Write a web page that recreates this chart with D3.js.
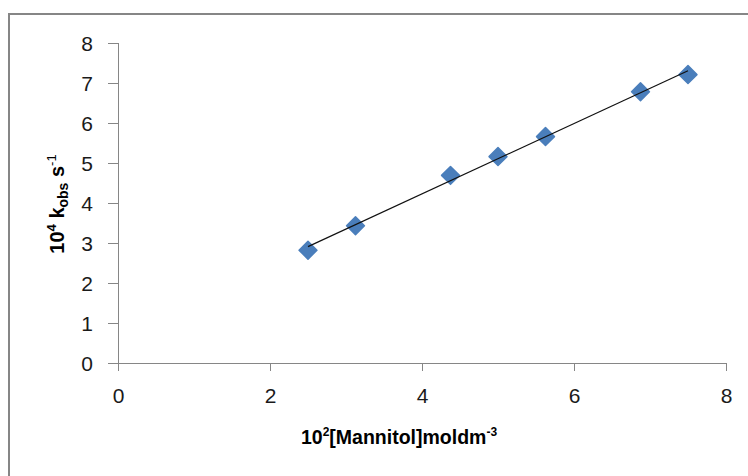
<!DOCTYPE html>
<html>
<head>
<meta charset="utf-8">
<script src="https://d3js.org/d3.v7.min.js"></script>
<style>
  body { margin: 0; background: #fff; }
  svg { display: block; font-family: "Liberation Sans", Arial, sans-serif; }
  .tick text { font-size: 21px; fill: #1a1a1a; }
  .axis path, .axis line { stroke: #868686; }
  .title { font-weight: bold; fill: #000; }
</style>
</head>
<body>
<svg id="chart" width="748" height="476"></svg>
<script>
// data
var mannitol = [2.5, 3.125, 4.375, 5, 5.625, 6.875, 7.5];
var kobs = [2.82, 3.43, 4.69, 5.16, 5.66, 6.78, 7.21];
var xTicks = [0, 2, 4, 6, 8];
var yTicks = [0, 1, 2, 3, 4, 5, 6, 7, 8];

var svg = d3.select("#chart");

// outer frame (runs off the right and bottom edges)
svg.append("rect")
  .attr("x", 9).attr("y", 14)
  .attr("width", 800).attr("height", 500)
  .attr("fill", "none")
  .attr("stroke", "#868686")
  .attr("stroke-width", 2);

var x = d3.scaleLinear().domain([0, 8]).range([118, 726]);
var y = d3.scaleLinear().domain([0, 8]).range([363, 43]);

// axes
var xAxis = svg.append("g")
  .attr("class", "axis")
  .attr("transform", "translate(0," + y(0) + ")")
  .call(d3.axisBottom(x).tickValues(xTicks).tickSize(8).tickSizeOuter(0).tickPadding(17));
xAxis.select(".domain").attr("d", "M108,0.5H" + x(8));

var yAxis = svg.append("g")
  .attr("class", "axis")
  .attr("transform", "translate(" + x(0) + ",0)")
  .call(d3.axisLeft(y).tickValues(yTicks).tickSize(10).tickSizeOuter(0).tickPadding(15));
yAxis.select(".domain").attr("d", "M0.5," + y(8) + "V" + (y(0) + 8));
yAxis.selectAll(".tick text").attr("dy", "0.36em");

// markers
var diamond = d3.symbol().type(d3.symbolSquare).size(160);
svg.append("g").selectAll("path")
  .data(mannitol)
  .join("path")
  .attr("d", diamond)
  .attr("transform", function(d, i) { return "translate(" + x(d) + "," + y(kobs[i]) + ") rotate(45)"; })
  .attr("fill", "#4a7ebb")
  .attr("stroke", "#4a7ebb")
  .attr("stroke-width", 1.5)
  .attr("stroke-linejoin", "round");

// linear trend line (least squares)
var mx = d3.mean(mannitol), my = d3.mean(kobs);
var sxy = d3.sum(mannitol, function(d, i) { return (d - mx) * (kobs[i] - my); });
var sxx = d3.sum(mannitol, function(d) { return (d - mx) * (d - mx); });
var slope = sxy / sxx, icept = my - slope * mx;
var xEnds = d3.extent(mannitol);
svg.append("line")
  .attr("x1", x(xEnds[0])).attr("y1", y(slope * xEnds[0] + icept))
  .attr("x2", x(xEnds[1])).attr("y2", y(slope * xEnds[1] + icept))
  .attr("stroke", "#111")
  .attr("stroke-width", 1.2);

// axis titles
var xt = svg.append("text")
  .attr("class", "title")
  .attr("x", 399).attr("y", 444)
  .attr("text-anchor", "middle")
  .style("font-size", "19.5px");
xt.append("tspan").text("10");
xt.append("tspan").attr("dy", -8).style("font-size", "12px").text("2");
xt.append("tspan").attr("dy", 8).text("[Mannitol]moldm");
xt.append("tspan").attr("dy", -8).style("font-size", "12px").text("-3");

var yt = svg.append("text")
  .attr("class", "title")
  .attr("transform", "translate(64,204) rotate(-90)")
  .attr("text-anchor", "middle")
  .style("font-size", "20px");
yt.append("tspan").text("10");
yt.append("tspan").attr("dy", -8).style("font-size", "13px").text("4");
yt.append("tspan").attr("dy", 8).text(" k");
yt.append("tspan").attr("dy", 4).style("font-size", "14px").text("obs");
yt.append("tspan").attr("dy", -4).text(" s");
yt.append("tspan").attr("dy", -8).style("font-size", "13px").style("font-weight", "normal").text("-1");
</script>
</body>
</html>
